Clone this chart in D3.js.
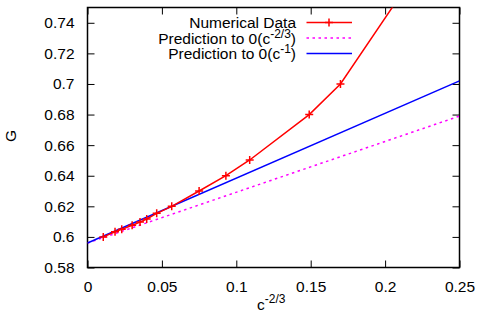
<!DOCTYPE html>
<html>
<head>
<meta charset="utf-8">
<script src="https://cdn.jsdelivr.net/npm/d3@7"></script>
<style>
  body { margin: 0; background: #fff; }
  text { font-family: "Liberation Sans", Arial, sans-serif; font-size: 15.5px; fill: #000; }
</style>
</head>
<body>
<div id="chart"></div>
<script>
// data
var cVals = [0.0106, 0.0185, 0.023, 0.030, 0.0353, 0.0398, 0.0465, 0.0566, 0.075, 0.093, 0.109, 0.149, 0.170, 0.25];
var gVals = [0.600, 0.6034, 0.605, 0.6076, 0.6097, 0.6117, 0.6154, 0.620, 0.630, 0.640, 0.6503, 0.680, 0.700, 0.815];
var predC = [0, 0.25];
var pred23 = [0.596, 0.679];
var pred1 = [0.596, 0.702];
var xTicks = [0, 0.05, 0.1, 0.15, 0.2, 0.25];
var yTicks = [0.58, 0.6, 0.62, 0.64, 0.66, 0.68, 0.7, 0.72, 0.74];
var legendLabels = ["Numerical Data", "Prediction to 0(c", "Prediction to 0(c"];
var legendSups = ["", "-2/3", "-1"];

var W = 478, H = 313;
var margin = {top: 7.5, right: 18.5, bottom: 45.5, left: 87.5},
    width = W - margin.left - margin.right,
    height = H - margin.top - margin.bottom;

var svg = d3.select("#chart").append("svg")
    .attr("width", W)
    .attr("height", H);

var g = svg.append("g")
    .attr("transform", "translate(" + margin.left + "," + margin.top + ")");

var x = d3.scaleLinear().domain([0, 0.25]).range([0, width]);
var y = d3.scaleLinear().domain([0.58, 0.75]).range([height, 0]);

svg.append("defs").append("clipPath").attr("id", "clip")
  .append("rect").attr("width", width).attr("height", height);

// axes with inward ticks
var tk = 7;
g.append("g")
  .attr("transform", "translate(0," + height + ")")
  .call(d3.axisBottom(x).tickValues(xTicks).tickSize(-tk).tickPadding(tk + 6)
        .tickFormat(function(d) { return +d.toFixed(2); }));
g.append("g")
  .call(d3.axisLeft(y).tickValues(yTicks).tickSize(-tk).tickPadding(tk + 6)
        .tickFormat(function(d) { return +d.toFixed(2); }));
g.append("g")
  .call(d3.axisTop(x).tickValues(xTicks).tickSize(-tk).tickFormat(""));
g.append("g")
  .attr("transform", "translate(" + width + ",0)")
  .call(d3.axisRight(y).tickValues(yTicks).tickSize(-tk).tickFormat(""));

g.selectAll(".domain").remove();
g.selectAll(".tick line").attr("stroke", "#000").attr("stroke-width", 1);
g.selectAll(".tick text").style("font-size", "15.5px").attr("fill", "#000");

g.append("rect")
  .attr("width", width).attr("height", height)
  .attr("fill", "none").attr("stroke", "#000").attr("stroke-width", 1.5);

// series
var plot = g.append("g").attr("clip-path", "url(#clip)");
var line = d3.line()
  .x(function(d) { return x(d[0]); })
  .y(function(d) { return y(d[1]); });

var data = cVals.map(function(c, i) { return [c, gVals[i]]; });

plot.append("path")
  .datum(predC.map(function(c, i) { return [c, pred23[i]]; }))
  .attr("d", line).attr("fill", "none")
  .attr("stroke", "#ff00ff").attr("stroke-width", 1.5).attr("stroke-dasharray", "2.5,3.5");

plot.append("path")
  .datum(predC.map(function(c, i) { return [c, pred1[i]]; }))
  .attr("d", line).attr("fill", "none")
  .attr("stroke", "#0000ff").attr("stroke-width", 1.5);

plot.append("path")
  .datum(data)
  .attr("d", line).attr("fill", "none")
  .attr("stroke", "#ff0000").attr("stroke-width", 1.5);

plot.selectAll(".pt").data(data).enter().append("path")
  .attr("d", "M-4,0H4M0,-4V4")
  .attr("transform", function(d) { return "translate(" + x(d[0]) + "," + y(d[1]) + ")"; })
  .attr("stroke", "#ff0000").attr("stroke-width", 1.5);

// legend
var legColors = ["#ff0000", "#ff00ff", "#0000ff"];
var leg = svg.append("g");
legendLabels.forEach(function(lab, i) {
  var ly = 22.5 + i * 15.5;
  var t = leg.append("text")
    .attr("x", 296).attr("y", ly + 5.5)
    .attr("text-anchor", "end");
  t.append("tspan").text(lab);
  if (legendSups[i]) {
    t.append("tspan").attr("dy", -6).style("font-size", "12px").text(legendSups[i]);
    t.append("tspan").attr("dy", 6).text(")");
  }
  var ln = leg.append("line")
    .attr("x1", 306.5).attr("x2", 352).attr("y1", ly).attr("y2", ly)
    .attr("stroke", legColors[i]).attr("stroke-width", 1.5);
  if (i === 1) ln.attr("stroke-dasharray", "2.5,3.5");
  if (i === 0) {
    leg.append("path").attr("d", "M-4,0H4M0,-4V4")
      .attr("transform", "translate(329," + ly + ")")
      .attr("stroke", legColors[i]).attr("stroke-width", 1.5);
  }
});

// axis titles
svg.append("text")
  .attr("transform", "translate(16,136) rotate(-90)")
  .attr("text-anchor", "middle")
  .text("G");

var xt = svg.append("text")
  .attr("x", 257).attr("y", 310);
xt.append("tspan").text("c");
xt.append("tspan").attr("dy", -7).style("font-size", "12px").text("-2/3");
</script>
</body>
</html>
